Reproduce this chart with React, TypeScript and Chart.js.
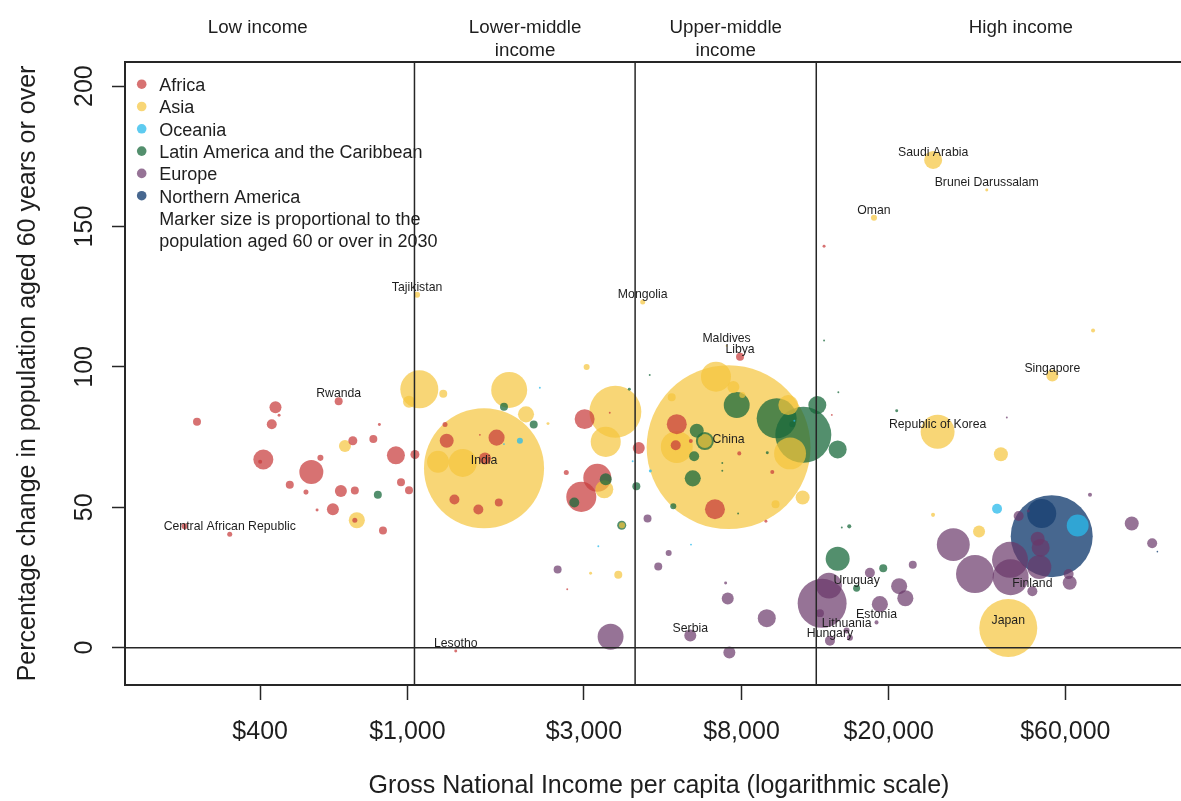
import React, { useEffect, useRef } from "react";
import { Chart, registerables } from "chart.js";

Chart.register(...registerables);

const FONT = "'Liberation Sans', Arial, Helvetica, sans-serif";

// ---- Regions ----
const regionNames = [
  "Africa",
  "Asia",
  "Oceania",
  "Latin America and the Caribbean",
  "Europe",
  "Northern America",
];
const regionColors = [
  "rgba(200,60,60,0.72)",
  "rgba(245,196,60,0.7)",
  "rgba(40,185,235,0.75)",
  "rgba(25,105,60,0.75)",
  "rgba(105,55,105,0.7)",
  "rgba(25,65,115,0.8)",
];

// ---- Axis ticks & income thresholds ----
const xTickValues = [400, 1000, 3000, 8000, 20000, 60000];
const yTickValues = [0, 50, 100, 150, 200];
const incomeThresholds = [1045, 4125, 12736];
const incomeGroupLabels = [["Low income"], ["Lower-middle", "income"], ["Upper-middle", "income"], ["High income"]];
const incomeGroupLabelGni = [394, 2080, 7250, 45500];

// ---- Africa (GNI per capita, % change 60+, population 60+ in 2030 in millions) ----
const africaGni = [250, 270, 440, 450, 430, 840, 809, 712, 931, 1048, 1264, 1277, 408, 400, 582, 550, 481, 532, 661, 721, 961, 1010, 570, 629, 721, 859, 1340, 1621, 1742, 1555, 1766, 1570, 3013, 3523, 4220, 2688, 3260, 2951, 2704, 5346, 5311, 5834, 6780, 7888, 9686, 9310, 13370, 14030];
const africaChange = [43.2, 80.5, 85.6, 82.8, 79.6, 79.5, 74.3, 73.7, 68.5, 68.8, 79.5, 73.7, 67.0, 66.2, 67.6, 62.6, 58.0, 55.4, 55.8, 56.0, 58.9, 56.1, 49.0, 49.3, 45.4, 41.7, 52.8, 67.4, 74.8, 49.2, 51.7, 75.8, 81.4, 83.7, 71.1, 62.4, 60.5, 53.7, 20.8, 79.6, 72.1, 73.6, 49.3, 69.2, 62.6, 45.0, 143.0, 82.9];
const africaPop = [0.49, 0.86, 1.95, 0.12, 1.35, 0.12, 0.86, 1.1, 4.4, 1.1, 0.34, 2.65, 5.4, 0.22, 0.49, 7.8, 0.86, 0.34, 1.95, 0.86, 0.86, 0.86, 0.12, 1.95, 0.34, 0.86, 1.35, 1.95, 3.5, 1.35, 0.86, 0.05, 5.4, 0.05, 1.95, 0.34, 10.6, 12.2, 0.05, 5.4, 1.35, 0.22, 5.4, 0.22, 0.22, 0.12, 0.12, 0.05];

// ---- Asia ----
const asiaGni = [1077, 1010, 1250, 678, 730, 1411, 1210, 1884, 2092, 2399, 3051, 3648, 3436, 3405, 3802, 3127, 3715, 6823, 7603, 5180, 8038, 10700, 10820, 5346, 6368, 9885, 11700, 71300, 40180, 26340, 35070];
const asiaChange = [92.0, 87.6, 90.4, 71.8, 45.4, 65.8, 66.2, 91.8, 83.1, 79.8, 100.0, 84.0, 73.3, 56.4, 43.6, 26.5, 26.0, 96.5, 92.8, 89.2, 90.0, 86.4, 69.2, 71.5, 73.6, 51.1, 53.5, 113.0, 68.9, 47.3, 41.4];
const asiaPop = [19.5, 1.95, 0.86, 1.95, 3.5, 10.6, 6.5, 17.5, 3.5, 0.12, 0.49, 36.5, 12.2, 4.4, 0.49, 0.12, 0.86, 12.2, 1.95, 0.86, 0.49, 5.4, 13.8, 13.8, 2.65, 0.86, 2.65, 0.22, 2.65, 0.22, 1.95];

// ---- Oceania ----
const oceaniaGni = [2014, 2280, 3281, 4535, 4063, 5841, 11110, 39230, 64800, 1824];
const oceaniaChange = [73.7, 92.6, 36.1, 62.9, 66.4, 36.7, 80.8, 49.5, 43.5, 72.5];
const oceaniaPop = [0.49, 0.05, 0.05, 0.12, 0.05, 0.05, 0.05, 1.35, 6.5, 0.05];

// ---- Latin America and the Caribbean ----
const latamGni = [832, 1824, 2195, 3979, 3436, 2825, 4157, 3795, 7763, 9955, 11750, 12820, 14550, 6054, 6368, 5957, 5905, 5231, 9390, 7097, 7097, 7830, 4518, 13370, 14610, 21010, 14930, 15640, 14550, 19320, 10970];
const latamChange = [54.5, 85.8, 79.5, 92.0, 60.0, 51.7, 57.5, 43.6, 86.4, 81.7, 75.8, 86.4, 70.6, 77.3, 73.6, 68.2, 60.3, 50.4, 69.4, 65.8, 63.0, 47.8, 97.1, 109.4, 91.0, 84.4, 42.8, 43.2, 31.7, 28.3, 79.6];
const latamPop = [0.86, 0.86, 0.86, 0.12, 1.95, 1.35, 0.86, 1.1, 9.1, 21.6, 42.4, 4.4, 4.4, 2.65, 4.4, 1.35, 3.5, 0.49, 0.12, 0.05, 0.05, 0.05, 0.05, 0.05, 0.05, 0.12, 0.05, 0.22, 7.8, 0.86, 0.49];

// ---- Europe ----
const europeGni = [2547, 4457, 5083, 4764, 3541, 7245, 7341, 9360, 7416, 13210, 13780, 13030, 17780, 21330, 22170, 18920, 23220, 15700, 29880, 34200, 42530, 42690, 51030, 50500, 51460, 61240, 61650, 90710, 103000, 69950, 44870, 47640, 41690];
const europeChange = [27.8, 46.0, 33.7, 28.9, 3.9, 23.0, 17.5, 10.5, -1.7, 15.8, 22.1, 12.3, 26.7, 21.9, 17.6, 15.5, 29.5, 3.5, 36.7, 26.2, 31.3, 25.1, 28.7, 38.8, 35.6, 26.2, 23.1, 44.2, 37.2, 54.5, 46.9, 48.7, 82.0];
const europePop = [0.86, 0.86, 0.49, 0.86, 9.1, 0.12, 1.95, 4.4, 1.95, 32.4, 9.1, 0.86, 1.35, 3.5, 3.5, 3.5, 0.86, 0.49, 14.7, 19.5, 17.5, 17.5, 7.8, 2.65, 4.4, 1.35, 2.65, 2.65, 1.35, 0.22, 1.35, 0.12, 0.05];

// ---- Northern America ----
const northAmericaGni = [55130, 51800, 106400];
const northAmericaChange = [39.7, 47.8, 34.2];
const northAmericaPop = [90.9, 11.4, 0.035];

// ---- Labelled countries ----
const labelNames = ["Tajikistan", "Rwanda", "Central African Republic", "Lesotho", "India", "Mongolia", "Maldives", "Libya", "China", "Serbia", "Saudi Arabia", "Brunei Darussalam", "Oman", "Singapore", "Republic of Korea", "Uruguay", "Estonia", "Lithuania", "Hungary", "Finland", "Japan"];
const labelRegion = [1, 0, 0, 0, 1, 1, 1, 0, 1, 4, 1, 1, 1, 1, 1, 3, 4, 4, 4, 4, 1];
const labelGni = [1062, 652, 331, 1351, 1611, 4325, 7288, 7925, 7380, 5815, 26360, 36790, 18240, 55340, 27100, 16370, 18530, 15380, 13870, 48870, 42070];
const labelChange = [125.7, 87.8, 40.4, -1.2, 63.9, 123.1, 107.5, 103.6, 71.4, 4.3, 173.7, 163.0, 153.1, 96.9, 76.9, 21.2, 9.0, 6.1, 2.5, 20.1, 7.0];
const labelPop = [0.49, 0.86, 0.34, 0.12, 195, 0.34, 0.05, 0.86, 363, 1.95, 4.4, 0.12, 0.49, 1.95, 15.6, 0.66, 0.22, 0.49, 1.35, 1.35, 45.5];

const legendNote = ["Marker size is proportional to the", "population aged 60 or over in 2030"];

const X_MIN = 172.5;
const X_MAX = 132800;
const Y_MIN = -13.3;
const Y_MAX = 208.6;

function radiusFor(pop: number) {
  return Math.max(0.8, 4.3 * Math.sqrt(pop));
}

function fmtMoney(v: number) {
  return "$" + v.toLocaleString("en-US");
}

export default function App() {
  const ref = useRef<HTMLCanvasElement>(null);

  useEffect(() => {
    document.body.style.margin = "0";
    const pts: { x: number; y: number; r: number; g: number; pop: number }[] = [];
    const add = (g: number, gni: number[], chg: number[], pop: number[]) => {
      gni.forEach((v, i) => pts.push({ x: v, y: chg[i], r: radiusFor(pop[i]), g, pop: pop[i] }));
    };
    add(0, africaGni, africaChange, africaPop);
    add(1, asiaGni, asiaChange, asiaPop);
    add(2, oceaniaGni, oceaniaChange, oceaniaPop);
    add(3, latamGni, latamChange, latamPop);
    add(4, europeGni, europeChange, europePop);
    add(5, northAmericaGni, northAmericaChange, northAmericaPop);
    labelGni.forEach((v, i) =>
      pts.push({ x: v, y: labelChange[i], r: radiusFor(labelPop[i]), g: labelRegion[i], pop: labelPop[i] })
    );
    pts.sort((a, b) => b.pop - a.pop);

    const ink = "#262626";

    const overlay = {
      id: "overlay",
      afterDatasetsDraw(chart: any) {
        const { ctx, chartArea: a, scales } = chart;
        const xs = scales.x;
        const ys = scales.y;
        ctx.save();
        ctx.strokeStyle = ink;
        ctx.lineCap = "butt";
        // top frame line
        ctx.lineWidth = 2;
        ctx.beginPath();
        ctx.moveTo(a.left - 1, a.top);
        ctx.lineTo(a.right, a.top);
        ctx.stroke();
        // income thresholds
        ctx.lineWidth = 1.5;
        incomeThresholds.forEach((t) => {
          const px = xs.getPixelForValue(t);
          ctx.beginPath();
          ctx.moveTo(px, a.top);
          ctx.lineTo(px, a.bottom);
          ctx.stroke();
        });
        // zero line
        const py0 = ys.getPixelForValue(0);
        ctx.beginPath();
        ctx.moveTo(a.left, py0);
        ctx.lineTo(a.right, py0);
        ctx.stroke();

        ctx.fillStyle = "#1e1e1e";
        // y tick labels (rotated)
        ctx.font = `25px ${FONT}`;
        ctx.textAlign = "center";
        ctx.textBaseline = "alphabetic";
        yTickValues.forEach((v) => {
          ctx.save();
          ctx.translate(91.5, ys.getPixelForValue(v));
          ctx.rotate(-Math.PI / 2);
          ctx.fillText(String(v), 0, 0);
          ctx.restore();
        });
        // x tick labels
        xTickValues.forEach((v) => {
          ctx.fillText(fmtMoney(v), xs.getPixelForValue(v), 738.5);
        });

        // income group labels
        ctx.font = `18.75px ${FONT}`;
        incomeGroupLabels.forEach((lines, i) => {
          const px = xs.getPixelForValue(incomeGroupLabelGni[i]);
          lines.forEach((s, j) => ctx.fillText(s, px, 33.3 + j * 22.5));
        });

        // country labels
        ctx.font = `12.25px ${FONT}`;
        labelNames.forEach((name, i) => {
          const px = xs.getPixelForValue(labelGni[i]);
          const py = ys.getPixelForValue(labelChange[i]);
          ctx.fillText(name, px, py - 4);
        });

        // legend
        ctx.textAlign = "left";
        ctx.font = `18px ${FONT}`;
        regionNames.forEach((name, i) => {
          const base = 91 + i * 22.3;
          ctx.fillStyle = regionColors[i];
          ctx.beginPath();
          ctx.arc(141.7, base - 6.8, 4.8, 0, Math.PI * 2);
          ctx.fill();
          ctx.fillStyle = "#1e1e1e";
          ctx.fillText(name, 159.3, base);
        });
        legendNote.forEach((s, j) => {
          ctx.fillText(s, 159.3, 91 + (6 + j) * 22.3);
        });
        ctx.restore();
      },
    };

    const chart = new Chart(ref.current as HTMLCanvasElement, {
      type: "bubble",
      data: {
        datasets: [
          {
            data: pts.map((p) => ({ x: p.x, y: p.y, r: p.r })),
            backgroundColor: pts.map((p) => regionColors[p.g]),
            borderWidth: 0,
            borderColor: "rgba(0,0,0,0)",
          },
        ],
      },
      options: {
        animation: false,
        responsive: false,
        events: [],
        layout: { autoPadding: false, padding: { top: 62, left: 0, right: 0, bottom: 0 } },
        plugins: { legend: { display: false }, tooltip: { enabled: false } },
        scales: {
          x: {
            type: "logarithmic",
            min: X_MIN,
            max: X_MAX,
            afterBuildTicks: (s: any) => {
              s.ticks = xTickValues.map((v) => ({ value: v }));
            },
            afterFit: (s: any) => {
              s.height = 116;
              s.paddingLeft = 0;
              s.paddingRight = 0;
            },
            ticks: { display: false },
            grid: { drawOnChartArea: false, drawTicks: true, tickLength: 15, color: ink, tickWidth: 1.5 },
            border: { display: true, color: ink, width: 2 },
            title: {
              display: true,
              text: "Gross National Income per capita (logarithmic scale)",
              font: { family: FONT, size: 25 },
              color: "#1e1e1e",
              padding: { top: 0, bottom: 0 },
            },
          },
          y: {
            type: "linear",
            min: Y_MIN,
            max: Y_MAX,
            afterBuildTicks: (s: any) => {
              s.ticks = yTickValues.map((v) => ({ value: v }));
            },
            afterFit: (s: any) => {
              s.width = 125;
              s.paddingTop = 0;
              s.paddingBottom = 0;
            },
            ticks: { display: false },
            grid: { drawOnChartArea: false, drawTicks: true, tickLength: 13, color: ink, tickWidth: 1.5 },
            border: { display: true, color: ink, width: 2 },
            title: {
              display: true,
              text: "Percentage change in population aged 60 years or over",
              font: { family: FONT, size: 25 },
              color: "#1e1e1e",
              padding: { top: 13, bottom: 0 },
            },
          },
        },
      },
      plugins: [overlay],
    } as any);
    return () => chart.destroy();
  }, []);

  return (
    <div
      style={{
        position: "fixed",
        left: 0,
        top: 0,
        width: 1181,
        height: 801,
        overflow: "hidden",
        background: "#ffffff",
      }}
    >
      <canvas ref={ref} width={1193} height={801} style={{ display: "block", width: 1193, height: 801 }} />
    </div>
  );
}
